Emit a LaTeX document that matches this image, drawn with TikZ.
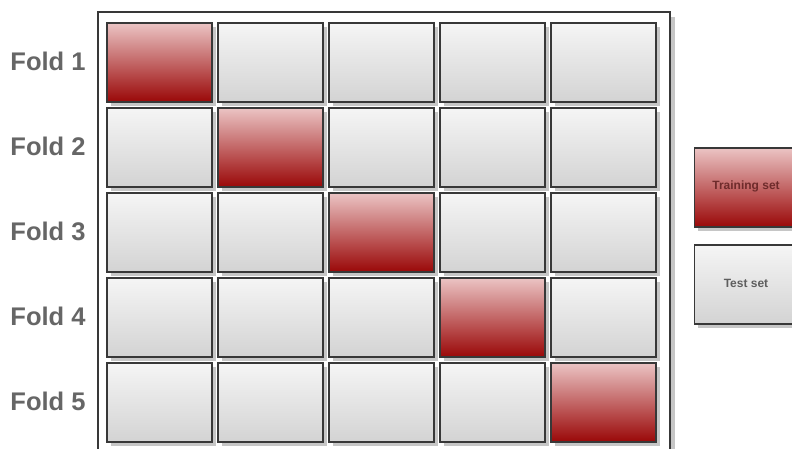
\documentclass[tikz,border=0pt]{standalone}
\usepackage{fontspec}
\setmainfont{Liberation Sans}
\definecolor{celledge}{HTML}{383838}
\definecolor{shadowgray}{HTML}{C6C6C6}
\definecolor{redtop}{HTML}{EBC4C4}
\definecolor{redbot}{HTML}{9A0808}
\definecolor{graytop}{HTML}{F5F5F5}
\definecolor{graybot}{HTML}{D3D3D3}
\definecolor{labelgray}{HTML}{666666}
\definecolor{trainlabel}{HTML}{6E2B2B}
\definecolor{testlabel}{HTML}{5E5E5E}
\tikzset{
  cellbase/.style={draw=celledge, line width=1.8pt, minimum width=105pt, minimum height=79pt, inner sep=0pt, anchor=north west},
  traincell/.style={cellbase, top color=redtop, bottom color=redbot},
  testcell/.style={cellbase, top color=graytop, bottom color=graybot},
  foldlabel/.style={font=\fontsize{25.5}{28}\selectfont\bfseries, text=labelgray},
}
\begin{document}
\begin{tikzpicture}[x=1pt,y=-1pt]
\useasboundingbox (0,0) rectangle (792,449);
\fill[white] (0,0) rectangle (792,449);
% outer frame with shadow
\fill[shadowgray] (670,17) rectangle (675,449);
\fill[white] (99,14) rectangle (669,449);
\draw[celledge, line width=2pt] (97.5,460) -- (97.5,12.5) -- (670,12.5) -- (670,460);
% cells
\foreach \r in {1,...,5}{
  \foreach \c in {1,...,5}{
    \pgfmathsetmacro{\xx}{106+(\c-1)*111}
    \pgfmathsetmacro{\yy}{22+(\r-1)*85}
    \fill[shadowgray] (\xx+5,\yy+5) rectangle (\xx+110,\yy+84);
    \ifnum\r=\c
      \node[traincell] (cell\r\c) at (\xx,\yy) {};
    \else
      \node[testcell] (cell\r\c) at (\xx,\yy) {};
    \fi
  }
}
% fold labels
\foreach \r in {1,...,5}{
  \node[foldlabel] (fold\r) at (48,{61.5+(\r-1)*85}) {Fold \r};
}
% legend
\fill[shadowgray] (698,151) rectangle (800,231);
\node[traincell, minimum width=106pt] (legtrain) at (693.5,147) {};
\node[font=\fontsize{12}{14}\selectfont\bfseries, text=trainlabel] (legtraintext) at (746,186) {Training set};
\fill[shadowgray] (698,248) rectangle (800,328);
\node[testcell, minimum width=106pt] (legtest) at (693.5,244) {};
\node[font=\fontsize{12}{14}\selectfont\bfseries, text=testlabel] (legtesttext) at (746,283.5) {Test set};
\end{tikzpicture}
\end{document}
